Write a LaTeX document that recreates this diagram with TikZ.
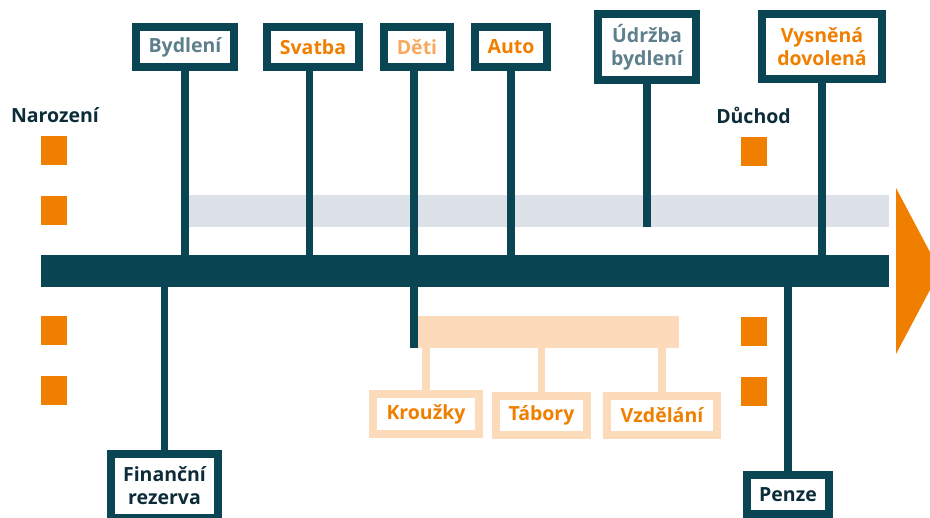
\documentclass[tikz,border=0pt]{standalone}
\usepackage{fontspec}
\setmainfont{Open Sans}
\definecolor{dteal}{HTML}{0A4554}
\definecolor{orng}{HTML}{F07F00}
\definecolor{peach}{HTML}{FCDBBA}
\definecolor{lorng}{HTML}{F9A95E}
\definecolor{grtxt}{HTML}{5E7F8C}
\definecolor{band}{HTML}{DDE2E9}
\definecolor{dtxt}{HTML}{0B2C38}
\begin{document}
\begin{tikzpicture}[x=1pt,y=-1pt,
  lbl/.style={font=\fontsize{19.5}{23}\selectfont\bfseries, align=center, inner sep=0pt},
  dbox/.style={lbl, draw=dteal, line width=8pt, fill=white},
  pbox/.style={lbl, draw=peach, line width=8pt, fill=white, text=orng},
  stem/.style={draw=dteal, line width=7.5pt},
  pstem/.style={draw=peach, line width=7.5pt},
  sq/.style={fill=orng, minimum width=26pt, minimum height=29pt, inner sep=0pt}
]
\useasboundingbox (0,0) rectangle (930,518);
\clip (0,0) rectangle (930,518);
% background bands
\node[fill=band, minimum width=701pt, minimum height=32pt, inner sep=0pt] (band) at (538.5,211) {};
\node[fill=peach, minimum width=261pt, minimum height=32pt, inner sep=0pt] (pbar) at (548.5,332) {};
% arrow head
\fill[orng] (896,188) -- (940,271) -- (896,354) -- cycle;
% top boxes
\node[dbox, text=grtxt, minimum width=98pt, minimum height=40pt] (bydl) at (185,47) {Bydlení};
\node[dbox, text=orng, minimum width=92pt, minimum height=40pt] (svat) at (313,47) {Svatba};
\node[dbox, text=lorng, minimum width=66pt, minimum height=40pt] (deti) at (417,47) {Děti};
\node[dbox, text=orng, minimum width=72pt, minimum height=40pt] (auto) at (511,47) {Auto};
\node[dbox, text=grtxt, minimum width=98pt, minimum height=66pt] (udrz) at (647,47) {Údržba\\bydlení};
\node[dbox, text=orng, minimum width=120pt, minimum height=65pt] (vysn) at (822,46.5) {Vysněná\\dovolená};
% bottom boxes
\node[dbox, text=dtxt, minimum width=107pt, minimum height=64pt] (fin) at (164.5,486) {Finanční\\rezerva};
\node[dbox, text=dtxt, minimum width=82pt, minimum height=39pt] (penz) at (788,494.5) {Penze};
% peach boxes
\node[pbox, minimum width=106pt, minimum height=40pt] (krou) at (426,414) {Kroužky};
\node[pbox, minimum width=91pt, minimum height=39pt] (tabo) at (541.5,415.5) {Tábory};
\node[pbox, minimum width=110pt, minimum height=39pt] (vzde) at (662,415.5) {Vzdělání};
% main bar
\node[fill=dteal, minimum width=848pt, minimum height=32pt, inner sep=0pt] (bar) at (465,271) {};
% stems
\draw[stem] (bydl.south) -- (bydl.south |- bar.north);
\draw[stem] ([xshift=-3.5pt]svat.south) -- ([xshift=-3.5pt]svat.south |- bar.north);
\draw[stem] ([xshift=-3pt]deti.south) -- ([xshift=-3pt]deti.south |- pbar.south);
\draw[stem] (auto.south) -- (auto.south |- bar.north);
\draw[stem] (udrz.south) -- (udrz.south |- band.south);
\draw[stem] (vysn.south) -- (vysn.south |- bar.north);
\draw[stem] (fin.north) -- (fin.north |- bar.south);
\draw[stem] (penz.north) -- (penz.north |- bar.south);
\draw[pstem] (krou.north) -- (krou.north |- pbar.south);
\draw[pstem] (tabo.north) -- (tabo.north |- pbar.south);
\draw[pstem] (vzde.north) -- (vzde.north |- pbar.south);
% labels
\node[lbl, text=dtxt] (nar) at (55,115) {Narození};
\node[lbl, text=dtxt] (duch) at (753.5,115) {Důchod};
% squares
\node[sq] (s1) at (54,150.5) {};
\node[sq] (s2) at (54,210.5) {};
\node[sq] (s3) at (54,331) {};
\node[sq] (s4) at (54,391) {};
\node[sq] (s5) at (754,152) {};
\node[sq] (s6) at (754,332) {};
\node[sq] (s7) at (754,392) {};
\end{tikzpicture}
\end{document}
